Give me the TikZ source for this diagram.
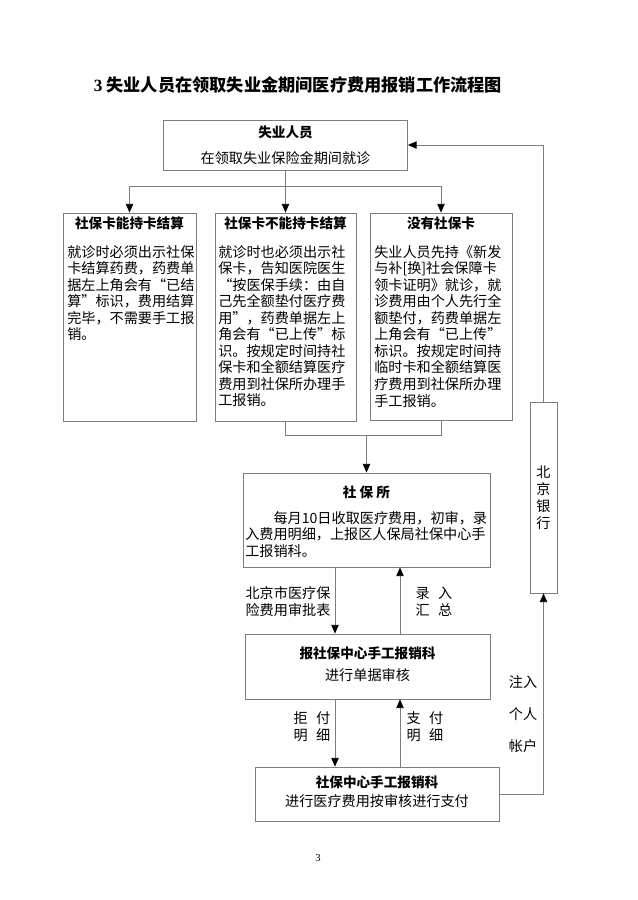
\documentclass[tikz,border=0pt]{standalone}
\usepackage{fontspec}
\setmainfont{Noto Sans CJK SC}
\newfontfamily\lat{Liberation Serif}
\usetikzlibrary{arrows.meta}
\definecolor{linegray}{RGB}{125,125,125}
\tikzset{
  box/.style={draw=linegray, line width=0.6pt, inner sep=0pt},
  bw/.style={minimum width=#1*0.75pt},
  bh/.style={minimum height=#1*0.75pt},
  conn/.style={draw=linegray, line width=0.6pt},
  arr/.style={conn, -{Triangle[black,width=5.5pt,length=6.5pt]}},
  body/.style={anchor=north west, inner sep=0pt, align=left, font=\fontsize{10.6}{12.4}\selectfont},
  head/.style={inner sep=0pt, font=\fontsize{10.2}{13}\selectfont\bfseries},
  lbl/.style={inner sep=0pt, align=center, font=\fontsize{10.6}{12.6}\selectfont},
}
\begin{document}
\begin{tikzpicture}[x=0.75pt,y=-0.75pt]
\useasboundingbox (0,0) rectangle (637,900);
% title
\node[inner sep=0pt, font=\fontsize{12.9}{16}\selectfont\bfseries] (title) at (298,85) {{\lat 3} 失业人员在领取失业金期间医疗费用报销工作流程图};
% boxes
\node[box, bw=244, bh=50] (top) at (285.5,145) {};
\node[head] (toph) at (285.5,132) {失业人员};
\node[lbl] (topt) at (285.5,158) {在领取失业保险金期间就诊};

\node[box, bw=133, bh=208] (b1) at (129.5,317) {};
\node[head] (b1h) at (129.5,223) {社保卡能持卡结算};
\node[body] (b1t) at (67,245) {就诊时必须出示社保\\卡结算药费，药费单\\据左上角会有“已结\\算”标识，费用结算\\完毕，不需要手工报\\销。};

\node[box, bw=141, bh=208] (b2) at (285.5,317) {};
\node[head] (b2h) at (285.5,223) {社保卡不能持卡结算};
\node[body] (b2t) at (218,245) {就诊时也必须出示社\\保卡，告知医院医生\\“按医保手续：由自\\己先全额垫付医疗费\\用”，药费单据左上\\角会有“已上传”标\\识。按规定时间持社\\保卡和全额结算医疗\\费用到社保所办理手\\工报销。};

\node[box, bw=142, bh=207] (b3) at (441,316.5) {};
\node[head] (b3h) at (441,223) {没有社保卡};
\node[body] (b3t) at (374,245) {失业人员先持《新发\\与补[换]社会保障卡\\领卡证明》就诊，就\\诊费用由个人先行全\\额垫付，药费单据左\\上角会有“已上传”\\标识。按规定时间持\\临时卡和全额结算医\\疗费用到社保所办理\\手工报销。};

\node[box, bw=247, bh=94] (sbs) at (366.5,520) {};
\node[head] (sbsh) at (366.5,492) {社\ 保\ 所};
\node[body] (sbst) at (245,511) {\hspace{2em}每月10日收取医疗费用，初审，录\\入费用明细，上报区人保局社保中心手\\工报销科。};

\node[box, bw=245, bh=65] (mid) at (367.5,666.5) {};
\node[head] (midh) at (367.5,653) {报社保中心手工报销科};
\node[lbl] (midt) at (367.5,675) {进行单据审核};

\node[box, bw=244, bh=54] (bot) at (377,794) {};
\node[head] (both) at (377,782) {社保中心手工报销科};
\node[lbl] (bott) at (377,801) {进行医疗费用按审核进行支付};

\node[box, bw=27, bh=191, align=center, font=\fontsize{10.6}{12.75}\selectfont] (bank) at (543.5,497.5) {北\\京\\银\\行};

% connectors
\coordinate (split) at (285.5,186);
\coordinate (join) at (366.5,435);
\coordinate (xl) at (335,0);
\coordinate (xr) at (400,0);
\draw[conn] (top.south) -- (split);
\draw[arr] (split) -| (b1.north);
\draw[arr] (split) -- (b2.north);
\draw[arr] (split) -| (b3.north);
\draw[conn] (b2.south) -- (b2.south |- join) -- (b3.south |- join) -- (b3.south);
\draw[arr] (join) -- (sbs.north);
\draw[arr] (sbs.south -| xl) -- (mid.north -| xl);
\draw[arr] (mid.north -| xr) -- (sbs.south -| xr);
\draw[arr] (mid.south -| xl) -- (bot.north -| xl);
\draw[arr] (bot.north -| xr) -- (mid.south -| xr);
\draw[arr] (bot.east) -| (bank.south);
\draw[arr] (bank.north) |- (top.east);

% labels
\node[lbl] (l1) at (288,601.5) {北京市医疗保\\险费用审批表};
\node[lbl] (l2) at (434,601.5) {录\hspace{0.6em}入\\汇\hspace{0.6em}总};
\node[lbl] (l3) at (312,726.5) {拒\hspace{0.6em}付\\明\hspace{0.6em}细};
\node[lbl] (l4) at (425,726.5) {支\hspace{0.6em}付\\明\hspace{0.6em}细};
\node[lbl, font=\fontsize{10.6}{24}\selectfont] (l5) at (523,714) {注入\\个人\\帐户};

\node[inner sep=0pt, font=\lat\fontsize{8}{9}\selectfont] (page) at (318,858) {3};
\end{tikzpicture}
\end{document}
